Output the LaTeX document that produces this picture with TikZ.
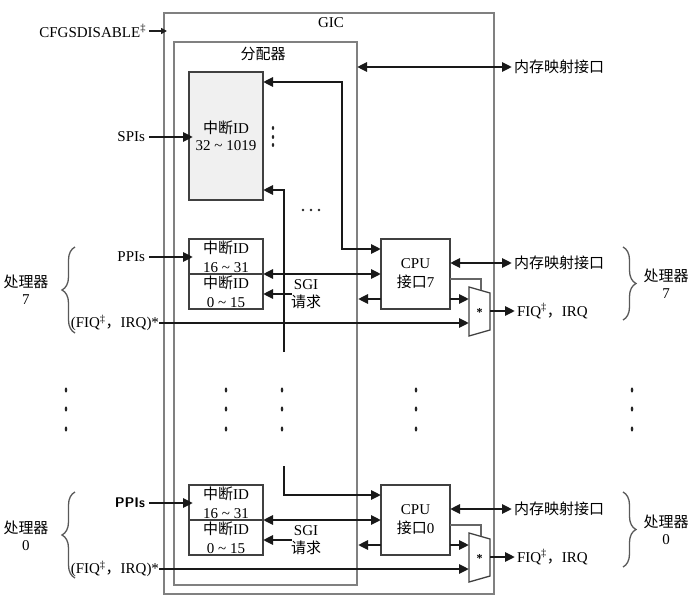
\documentclass[tikz,border=0pt]{standalone}
\usepackage{fontspec}
\setmainfont{Liberation Serif}
\newfontfamily\cjk{Noto Sans CJK SC}
\usetikzlibrary{arrows.meta,decorations.pathreplacing,calc}
\begin{document}
\begin{tikzpicture}[x=1pt,y=-1pt,
  every node/.style={font=\fontsize{15}{17}\selectfont, inner sep=0pt, outer sep=0pt},
  frame/.style={draw=black!50, line width=1.3pt},
  blk/.style={draw=black!75, line width=1.3pt, align=center, font=\fontsize{15}{19}\selectfont},
  muxline/.style={draw=black!75, line width=1.3pt},
  arr/.style={draw=black!90, line width=2.7pt, -{Triangle[length=10pt,width=9pt]}},
  darr/.style={draw=black!90, line width=2.7pt, {Triangle[length=10pt,width=9pt]}-{Triangle[length=10pt,width=9pt]}},
  arrsmall/.style={draw=black!88, line width=1.5pt, -{Triangle[length=6pt,width=6pt]}},
  thinline/.style={draw=black!60, line width=1.1pt},
  brc/.style={draw=black!65, line width=1.3pt, decorate, decoration={brace, amplitude=13pt}},
  vdot/.style={fill=black!85}
]
\useasboundingbox (0,0) rectangle (697,602);

% frames
\node[frame, minimum width=330pt, minimum height=581pt] (gic) at (329,303.5) {};
\node (giclbl) at (331,23) {GIC};
\node[frame, minimum width=183pt, minimum height=543pt] (dist) at (265.5,313.5) {};
\node (distlbl) at (263,54) {\cjk 分配器};

% CFGSDISABLE
\node[anchor=east] (cfg) at (146,31) {CFGSDISABLE\textsuperscript{\ddag}};
\draw[arrsmall] ([xshift=3pt]cfg.east) -- ([xshift=3pt]cfg.east -| gic.west);

% SPI block
\node[blk, fill=black!6, minimum width=74pt, minimum height=128pt, font=\fontsize{15}{17}\selectfont] (spi) at (226,136) {{\cjk 中断}ID\\32 \textasciitilde{} 1019};
\node[anchor=east] (spil) at (145,137) {SPIs};
\draw[arr] ([xshift=4pt]spil.east) -- ([xshift=4pt]spil.east -| spi.west);
\foreach \yy in {128,137,145} \fill[vdot] (273,\yy) ellipse [x radius=1.2pt, y radius=2pt];

% top memory-mapped interface
\coordinate (memt) at (512,67);
\draw[darr] (dist.east |- memt) -- (memt);
\node[anchor=west] (memtl) at (514,67) {\cjk 内存映射接口};

% horizontal ellipsis
\foreach \xx in {303,311,319} \fill[vdot] (\xx,210) circle [radius=1.3pt];

% vertical ellipses between processors
\foreach \xx in {66,226,282,416,632}
  \foreach \yy in {390,409,429}
    \fill[vdot] (\xx,\yy) ellipse [x radius=1.3pt, y radius=2.6pt];

% per-processor sections
\foreach \o/\n in {0/7,246/0}{
  \node[blk, minimum width=74pt, minimum height=35pt] (ppi\n) at (226,256.5+\o) {{\cjk 中断}ID\\16 \textasciitilde{} 31};
  \node[blk, minimum width=74pt, minimum height=35pt] (sgi\n) at (226,291.5+\o) {{\cjk 中断}ID\\0 \textasciitilde{} 15};
  \node[blk, minimum width=69pt, minimum height=70pt] (cpu\n) at (415.5,274+\o) {CPU\\{\cjk 接口}\n};
  % mux
  \draw[muxline] (469,287+\o) -- (490,293+\o) -- (490,330+\o) -- (469,336+\o) -- cycle;
  \node[font=\fontsize{12}{12}\selectfont\bfseries] (muxs\n) at (479.5,313+\o) {*};
  \coordinate (muxa\n) at (469,299+\o);
  \coordinate (muxb\n) at (469,323+\o);
  \coordinate (muxo\n) at (490,311+\o);
  \coordinate (sel\n) at (481,279+\o);
  \coordinate (selb\n) at (481,290+\o);
  \coordinate (mem\n) at (512,263+\o);
  \coordinate (out\n) at (515,311+\o);
  \coordinate (ret\n) at (358,299+\o);
  \coordinate (sgis\n) at (292,294+\o);
  % PPIs input
  \ifnum\n=0
    \node[anchor=east, font=\fontsize{14}{17}\selectfont\sffamily\bfseries] (ppil\n) at (145,257+\o) {PPIs};
  \else
    \node[anchor=east] (ppil\n) at (145,257+\o) {PPIs};
  \fi
  \draw[arr] ([xshift=4pt]ppil\n.east) -- ([xshift=4pt]ppil\n.east -| ppi\n.west);
  % divider <-> CPU
  \draw[darr] (ppi\n.south east) -- (ppi\n.south east -| cpu\n.west);
  % SGI request
  \draw[arr] (sgis\n) -- (sgis\n -| sgi\n.east);
  \node[align=center, font=\fontsize{15}{18}\selectfont] (sgil\n) at (306,294+\o) {SGI\\{\cjk 请求}};
  % FIQ/IRQ input
  \node[anchor=east] (fiql\n) at (159,323+\o) {({FIQ}\textsuperscript{\ddag}{\cjk ，}IRQ)*};
  \draw[arr] (fiql\n.east |- muxb\n) -- (muxb\n);
  % CPU outputs
  \draw[arr] (cpu\n.west |- ret\n) -- (ret\n);
  \draw[arr] (cpu\n.east |- muxa\n) -- (muxa\n);
  \draw[thinline] (cpu\n.east |- sel\n) -- (sel\n) -- (selb\n);
  % memory mapped interface
  \draw[darr] (cpu\n.east |- mem\n) -- (mem\n);
  \node[anchor=west] (meml\n) at (514,263+\o) {\cjk 内存映射接口};
  % mux output
  \draw[arr] (muxo\n) -- (out\n);
  \node[anchor=west] (outl\n) at (517,311+\o) {FIQ\textsuperscript{\ddag}{\cjk ，}IRQ};
  % braces and processor labels
  \node[align=center] (procl\n) at (26,290+\o) {{\cjk 处理器}\\\n};
  \node[align=center] (procr\n) at (666,284+\o) {{\cjk 处理器}\\\n};
}
\draw[brc] (75,333) -- (75,247);
\draw[brc] (75,578) -- (75,492);
\draw[brc] (623,247) -- (623,320);
\draw[brc] (623,492) -- (623,567);

% distributor <-> CPU7 loop
\coordinate (k1) at (342,82);
\coordinate (k2) at (342,249);
\draw[darr] (spi.east |- k1) -- (k1) -- (k2) -- (cpu7.west |- k2);

% SGI path line (top)
\coordinate (g1) at (284,190);
\coordinate (g2) at (284,352);
\draw[arr] (g2) -- (g1) -- (spi.east |- g1);

% SGI path line (bottom) to CPU0
\coordinate (g3) at (284,466);
\coordinate (g4) at (284,495);
\draw[arr] (g3) -- (g4) -- (cpu0.west |- g4);
\end{tikzpicture}
\end{document}
